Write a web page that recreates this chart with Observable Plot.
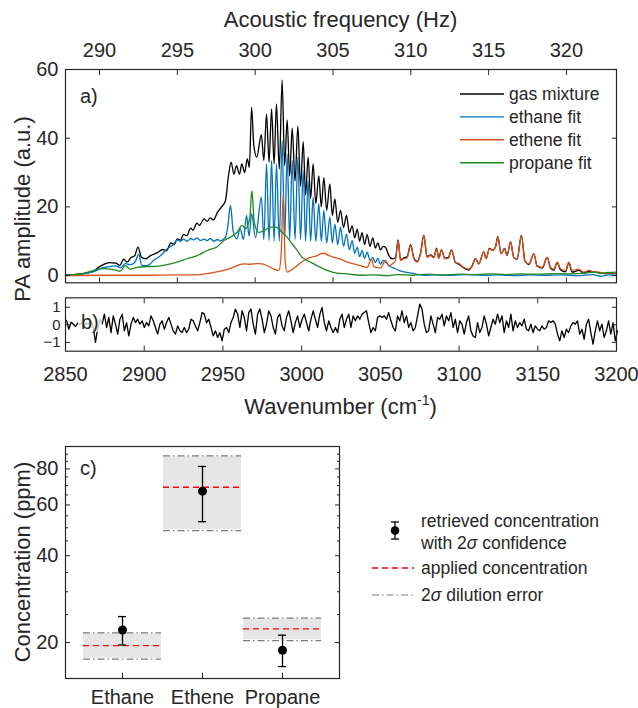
<!DOCTYPE html>
<html><head><meta charset="utf-8">
<script src="https://cdn.jsdelivr.net/npm/d3@7"></script>
<script src="https://cdn.jsdelivr.net/npm/@observablehq/plot@0.6"></script>
<style>
body{margin:0;background:#fff;}
#fig{position:relative;width:638px;height:708px;font-family:"Liberation Sans",Arial,sans-serif;color:#262626;overflow:hidden;}
#fig > *{position:absolute;}
.lab{font-size:22px;white-space:nowrap;transform:translate(-50%,-50%);}
.rot{transform:translate(-50%,-50%) rotate(-90deg);}
.pl{font-size:20px;white-space:nowrap;transform:translate(0,-50%);}
.lg{font-size:17.5px;white-space:nowrap;transform:translate(0,-50%);line-height:22px;}
</style></head><body><div id="fig"></div>
<script>
// ---------------- data: panel a (wavenumber cm-1, PA amplitude a.u.) ----------------
const gasMixture = [[2850,0.2],[2855,0.3],[2860,0.5],[2864,0.8],[2868,1.3],[2871,2.4],[2874,3.2],[2878,3.8],[2882,3.6],[2884.5,3.0],[2887,4.8],[2889,3.9],[2891.5,5.2],[2894,5.8],[2896,8.3],[2898.3,5.3],[2901,4.9],[2904,5.8],[2908,6.6],[2912,7.6],[2914,7.2],[2917,9.5],[2919,9.0],[2921,10.7],[2923,10.3],[2925,12.0],[2927,11.6],[2929.5,13.8],[2931,13.2],[2933.5,15.3],[2935,14.6],[2938,16.5],[2940,15.8],[2942,16.8],[2944,16.2],[2946.5,18.4],[2949.5,20.2],[2951.6,21.8],[2953.5,29.0],[2955.2,33.0],[2957,29.5],[2958.6,32.0],[2960.5,29.5],[2962,32.5],[2963.8,30.0],[2965.5,34.0],[2966.8,31.5],[2968.2,49.0],[2969.6,38.0],[2971.5,34.5],[2974.4,41.0],[2976,33.5],[2977.7,47.0],[2979.3,33.0],[2980.9,48.5],[2982.5,32.5],[2984.0,50.0],[2985.8,31.0],[2987.6,57.0],[2989.2,32.0],[2990.8,45.3],[2992.4,29.0],[2994.0,43.0],[2995.8,27.5],[2997.6,43.5],[2999.3,26.0],[3001,39.0],[3002.5,23.5],[3004.1,34.5],[3005.7,22.5],[3007.3,32.5],[3009,21.0],[3010.9,29.0],[3012.5,20.0],[3014.1,28.5],[3015.9,19.0],[3017.9,26.7],[3019.5,17.5],[3021.1,22.3],[3022.9,15.5],[3024.7,19.0],[3026.6,14.0],[3028.5,17.5],[3030.3,12.5],[3032.1,14.5],[3033.7,11.0],[3035.3,13.5],[3036.8,10.0],[3038.4,12.5],[3040,9.0],[3041.6,12.0],[3043.4,8.5],[3045.2,11.0],[3046.8,8.0],[3048.4,9.5],[3050,7.5],[3051.8,8.5],[3053.3,8.2],[3055.4,5.8],[3057.5,4.9],[3059.6,5.2],[3061.3,10.4],[3062.8,4.6],[3064.9,5.2],[3067,5.5],[3069.2,9.0],[3071.3,5.1],[3073.4,4.1],[3075.5,6.5],[3077.6,11.8],[3079.7,5.5],[3081.9,6.0],[3084,5.4],[3085.7,8.0],[3087.1,5.1],[3088.8,7.5],[3091,5.1],[3093.1,5.2],[3095.2,7.5],[3097.7,3.8],[3100.3,3.2],[3103,2.2],[3106.2,1.6],[3108.3,2.8],[3110.4,4.9],[3112.5,3.4],[3115.7,6.9],[3117.2,5.0],[3119.3,7.9],[3121.4,7.4],[3123.1,8.3],[3124.6,11.3],[3126.7,6.4],[3128.9,7.9],[3130.5,5.9],[3132.7,9.8],[3134.8,5.2],[3136.9,4.8],[3139.6,11.8],[3141.8,4.3],[3144.3,3.2],[3147.5,6.3],[3149.6,2.7],[3152.8,2.2],[3156,5.3],[3158.1,2.2],[3160.2,1.6],[3162.3,3.8],[3164.4,1.7],[3167.6,1.1],[3169.7,3.7],[3171.8,1.0],[3176.1,1.5],[3179.2,0.7],[3182.4,1.2],[3185.6,1.1],[3188.8,0.8],[3193,0.6],[3197.2,0.7],[3200,0.5]];
const ethaneFit = [[2850,0.2],[2856,0.3],[2860,0.4],[2866,0.9],[2870,1.5],[2874,2.3],[2878,2.6],[2882,2.8],[2885,2.3],[2888,3.5],[2891,3.2],[2894,3.8],[2896.5,6.2],[2898.5,3.0],[2901.9,2.9],[2906,4.4],[2910.3,5.8],[2914.6,7.8],[2918.8,9.2],[2921,10.4],[2923,10.0],[2925,10.6],[2927.3,10.0],[2929.5,10.8],[2931.5,10.4],[2933.5,11.0],[2935.7,10.2],[2938,10.6],[2940,10.2],[2942,10.8],[2944.2,10.0],[2946.5,10.5],[2948.4,10.1],[2950.6,10.7],[2951.6,11.2],[2953,14.0],[2954.8,20.4],[2956.5,13.0],[2958.8,10.7],[2961,13.6],[2963,10.5],[2965,17.5],[2966.6,11.5],[2968.2,18.0],[2970.7,11.0],[2974.4,22.8],[2976,10.5],[2977.7,32.5],[2979.3,10.2],[2980.9,33.5],[2982.5,10.0],[2984.0,32.5],[2985.8,10.0],[2987.6,39.3],[2989.2,10.5],[2990.8,35.4],[2992.4,10.5],[2994.0,33.5],[2995.8,10.5],[2997.6,34.5],[2999.3,10.5],[3001,30.6],[3002.5,10.0],[3004.1,27.7],[3005.7,10.0],[3007.3,22.8],[3009,10.0],[3010.9,20.9],[3012.5,10.0],[3014.1,18.9],[3015.9,9.5],[3017.9,17.0],[3019.5,9.5],[3021.1,15.0],[3022.9,9.0],[3024.7,14.1],[3026.6,8.5],[3028.5,12.1],[3030.3,7.5],[3032.1,10.2],[3033.7,6.5],[3035.3,8.3],[3036.8,5.5],[3038.4,7.3],[3040,5.0],[3041.6,6.8],[3043.4,4.5],[3045.2,5.3],[3046.8,3.8],[3048.4,5.0],[3050,3.3],[3051.8,4.4],[3053.3,3.9],[3055.4,2.9],[3057.5,2.4],[3059.6,2.0],[3061.7,1.5],[3066,1.0],[3070,0.7],[3074.5,0.3],[3078,0.1],[3085,0.2],[3095,0.1],[3105,0.3],[3115,0.1],[3125,0.2],[3135,0.0],[3145,0.2],[3155,0.1],[3165,0.2],[3175,0.0],[3185,0.3],[3190,-0.2],[3195,0.2],[3200,0.1]];
const etheneFit = [[2850,0.0],[2870,0.1],[2900,0.1],[2920,0.2],[2931.5,0.2],[2935.7,0.3],[2942,0.7],[2948.4,1.3],[2954.8,2.1],[2959,2.9],[2963.3,3.4],[2967.5,3.3],[2971.7,3.5],[2975,3.4],[2978.1,2.9],[2982.3,1.9],[2985.5,1.5],[2987,6.3],[2988.3,23.8],[2989.5,4.4],[2990.8,1.0],[2992.9,1.5],[2997.2,2.9],[3001.4,4.4],[3005.6,5.3],[3009.9,5.8],[3012,6.3],[3014.1,6.5],[3017.3,5.8],[3020.4,5.3],[3024.7,4.8],[3028.9,3.9],[3033.1,3.4],[3037.4,2.9],[3041.6,2.4],[3044.4,4.8],[3045.8,2.6],[3050.1,2.2],[3053.3,4.4],[3055.4,2.9],[3057.5,3.4],[3059.6,4.4],[3061.3,10.2],[3062.8,4.4],[3064.9,4.9],[3067,5.2],[3069.2,8.7],[3071.3,4.9],[3073.4,3.9],[3075.5,6.3],[3077.6,11.6],[3079.7,5.3],[3081.9,5.8],[3084,5.2],[3085.7,7.8],[3087.1,4.9],[3088.8,7.3],[3091,4.9],[3093.1,5.0],[3095.2,7.3],[3097.7,3.9],[3100.3,3.4],[3103,2.4],[3106.2,1.9],[3108.3,2.9],[3110.4,4.9],[3112.5,3.4],[3115.7,6.8],[3117.2,4.9],[3119.3,7.8],[3121.4,7.3],[3123.1,8.2],[3124.6,11.2],[3126.7,6.3],[3128.9,7.8],[3130.5,5.8],[3132.7,9.7],[3134.8,5.3],[3136.9,4.9],[3139.6,11.7],[3141.8,4.4],[3144.3,3.4],[3147.5,6.3],[3149.6,2.9],[3152.8,2.4],[3156,5.3],[3158.1,2.4],[3160.2,1.9],[3162.3,3.9],[3164.4,2.0],[3167.6,1.5],[3169.7,3.9],[3171.8,1.5],[3176.1,1.9],[3179.2,1.0],[3182.4,1.5],[3185.6,1.1],[3188.8,1.0],[3193,0.7],[3197.2,0.8],[3200,0.6]];
const propaneFit = [[2850,0.1],[2856,0.3],[2860,0.5],[2866,1.2],[2870,1.8],[2874,2.0],[2878,1.9],[2882,1.6],[2884.5,1.2],[2888,2.9],[2891,1.9],[2895.5,2.4],[2902,2.6],[2908.2,2.7],[2914.6,3.2],[2920.9,3.9],[2927.3,4.9],[2933.6,5.8],[2940,7.3],[2946.3,8.4],[2950.6,10.2],[2954.8,11.2],[2959,12.6],[2962.2,14.6],[2964.3,13.6],[2967.1,17.0],[2968.4,24.7],[2969.8,16.0],[2970.7,14.1],[2972.5,12.6],[2976,13.1],[2980.2,14.1],[2983.4,14.1],[2985.5,13.6],[2987.6,12.6],[2990.8,11.2],[2994,9.2],[2997.2,7.3],[3000.3,5.3],[3003.5,4.4],[3007.7,3.4],[3012,2.4],[3016.2,1.5],[3022.6,0.7],[3028.9,0.5],[3037.4,0.1],[3045.8,0.2],[3054.3,0.0],[3060,0.3],[3070,0.1],[3080,0.4],[3090,0.2],[3100,0.4],[3110,0.3],[3120,0.5],[3130,0.3],[3140,0.5],[3150,0.4],[3160,0.6],[3170,0.5],[3180,0.7],[3186,1.0],[3190,0.7],[3195,0.9],[3200,1.0]];
const seriesNames = ["gas mixture","ethane fit","ethene fit","propane fit"];
const seriesColors = ["#000000","#0072BD","#D95319","#1F8A1F"];

// ---------------- data: panel b residual (regular sampling) ----------------
const residStart = 2850.7, residStep = 1.411;
const residual = [0.25,-0.25,0.15,0.05,-0.1,0.1,0.0,0.15,-0.05,0.1,0.05,0.2,-0.1,-1.0,-0.2,0.3,
0.04,0.61,-0.15,0.42,-0.44,0.51,0.04,-0.53,0.32,0.61,-0.34,0.13,-0.63,0.04,0.42,0.13,0.32,0.04,0.23,-0.15,
0.13,-0.06,0.51,0.23,-0.15,-0.53,0.04,0.23,-0.25,0.13,0.42,0.04,-0.34,-0.53,-0.06,-0.34,-0.44,-0.15,-0.44,-0.25,
0.32,0.23,-0.06,-0.34,0.13,0.70,0.61,0.13,0.32,-0.15,-0.63,-0.34,-0.72,-0.44,-0.91,-0.25,-0.15,-0.44,0.13,0.42,
0.90,0.61,-0.15,0.80,0.42,-0.34,0.70,0.90,0.04,-0.53,0.61,0.90,0.32,-0.44,0.04,0.80,0.51,-0.15,-0.53,0.42,
0.61,-0.06,-0.34,0.42,0.80,0.23,-0.44,0.13,0.51,-0.15,0.32,0.61,0.13,-0.34,0.32,0.80,0.32,-0.15,0.61,0.99,
0.13,-0.34,0.23,-0.15,-0.44,
-0.15,-0.44,0.32,0.61,-0.15,0.32,0.61,-0.15,0.51,0.23,0.51,0.32,0.61,0.70,0.80,0.13,-0.44,-0.15,-0.34,0.42,
0.51,0.42,0.51,0.32,0.70,0.23,-0.15,-0.34,0.51,0.23,0.80,0.13,0.51,-0.15,0.13,-0.34,-0.15,0.51,1.18,0.90,
0.04,-0.44,-0.34,0.51,0.04,-0.44,0.42,0.32,0.61,-0.06,0.51,0.23,0.70,-0.15,0.32,-0.44,0.23,0.04,-0.53,0.13,
0.51,-0.34,-0.63,-0.72,0.13,-0.44,-0.15,0.51,0.04,-0.63,-0.15,0.32,0.04,0.61,0.13,0.51,-0.44,0.23,-0.15,0.61,
-0.34,0.23,-0.15,0.13,-0.06,0.32,-0.25,-0.34,0.04,-0.44,-0.06,-0.25,-0.34,-0.06,-0.25,-0.15,0.23,0.13,0.23,0.04,
-0.53,-0.91,-0.34,-0.72,-0.25,-0.44,-0.06,0.13,0.04,0.23,-0.53,-0.25,-0.82,0.04,0.32,-0.44,-1.10,-0.34,0.23,-0.34,
0.04,-0.72,-0.34,0.23,-0.53,0.13,-0.91,-0.34];

// ---------------- data: panel c (ppm) ----------------
const species = ["Ethane","Ethene","Propane"];
const applied = [19.5, 69.1, 22.3];
const dilutionLow = [17.5, 48.9, 20.3];
const dilutionHigh = [21.6, 88.8, 24.3];
const retrieved = [22.1, 67.0, 18.8];
const retrievedLow = [19.6, 52.5, 16.5];
const retrievedHigh = [24.6, 81.6, 21.2];

// ---------------- ticks ----------------
const freqTicks = [290,295,300,305,310,315,320];
const wnTicks = [2850,2900,2950,3000,3050,3100,3150,3200];
const ampTicks = [0,20,40,60];
const residTicks = [-1,0,1];
const concTicks = [20,40,60,80];
const concMinorTicks = [25,30,35,45,50,55,65,70,75,85,90];
const wnAt290 = 2871.6, wnPerHz = 296.6 / 30;
const toWn = f => wnAt290 + (f - 290) * wnPerHz;
const toFreq = w => 290 + (w - wnAt290) / wnPerHz;

const FONT = "Liberation Sans, Arial, sans-serif";
const INK = "#262626";
const fig = document.getElementById("fig");
function place(el, left, top) { el.style.left = left + "px"; el.style.top = top + "px"; fig.appendChild(el); }
function html(cls, text, left, top) { const d = document.createElement("div"); d.className = cls; d.innerHTML = text; place(d, left, top); return d; }

// ---------------- panel a ----------------
const specRows = [gasMixture, ethaneFit, etheneFit, propaneFit]
  .flatMap((s, i) => s.map(([wn, amp]) => ({name: seriesNames[i], wn, amp})));
const plotA = Plot.plot({
  width: 638, height: 290,
  marginLeft: 65, marginRight: 22, marginTop: 69, marginBottom: 7.7,
  style: {fontFamily: FONT, fontSize: "20px", color: INK, background: "transparent", overflow: "visible"},
  x: {domain: [2850, 3200]},
  y: {domain: [-2.1, 60]},
  color: {domain: seriesNames, range: seriesColors},
  marks: [
    Plot.line(specRows, {x: "wn", y: "amp", z: "name", stroke: "name", strokeWidth: 1.3, curve: "monotone-x"}),
    Plot.axisY(ampTicks, {anchor: "left", tickSize: -5, tickPadding: 12, label: null}),
    Plot.axisY(ampTicks, {anchor: "right", tickSize: -5, tickFormat: () => "", label: null}),
    Plot.axisX(freqTicks.map(toWn), {anchor: "top", tickSize: -5, tickPadding: 18, tickFormat: d => String(Math.round(toFreq(d))), label: null}),
    Plot.axisX(freqTicks.map(toWn), {anchor: "bottom", tickSize: -5, tickFormat: () => "", label: null}),
    Plot.frame({stroke: INK, strokeWidth: 1.2})
  ]
});
place(plotA, 0, 0);

// ---------------- panel b ----------------
const residRows = residual.map((v, i) => ({wn: residStart + i * residStep, v}));
const plotB = Plot.plot({
  width: 638, height: 100,
  marginLeft: 65, marginRight: 22, marginTop: 7.3, marginBottom: 39.3,
  style: {fontFamily: FONT, fontSize: "20px", color: INK, background: "transparent", overflow: "visible"},
  x: {domain: [2850, 3200]},
  y: {domain: [-1.5, 1.54]},
  marks: [
    Plot.line(residRows, {x: "wn", y: "v", stroke: "#000", strokeWidth: 1.3}),
    Plot.axisY(residTicks, {anchor: "left", tickSize: -5, tickPadding: 10, fontSize: 15, label: null}),
    Plot.axisY(residTicks, {anchor: "right", tickSize: -5, tickFormat: () => "", label: null}),
    Plot.axisX(wnTicks, {anchor: "bottom", tickSize: -5, tickPadding: 21, tickFormat: d => String(d), label: null}),
    Plot.axisX(wnTicks, {anchor: "top", tickSize: -5, tickFormat: () => "", label: null}),
    Plot.frame({stroke: INK, strokeWidth: 1.2})
  ]
});
place(plotB, 0, 290);

// ---------------- panel c ----------------
const concRows = species.map((name, i) => ({
  name, applied: applied[i], lo: dilutionLow[i], hi: dilutionHigh[i],
  ret: retrieved[i], retLo: retrievedLow[i], retHi: retrievedHigh[i]
}));
const plotC = Plot.plot({
  width: 350, height: 268,
  marginLeft: 65, marginRight: 11, marginTop: 6, marginBottom: 30,
  style: {fontFamily: FONT, fontSize: "20px", color: INK, background: "transparent", overflow: "visible"},
  x: {domain: species, type: "band", paddingInner: 0, paddingOuter: 0.2},
  y: {type: "log", domain: [15, 95.7]},
  marks: [
    Plot.barY(concRows, {x: "name", y1: "lo", y2: "hi", fill: "#e6e6e6", inset: 1}),
    Plot.tickY(concRows, {x: "name", y: "lo", stroke: "#7a7a7a", strokeWidth: 1.2, strokeDasharray: "7,3,1.5,3", inset: 1}),
    Plot.tickY(concRows, {x: "name", y: "hi", stroke: "#7a7a7a", strokeWidth: 1.2, strokeDasharray: "7,3,1.5,3", inset: 1}),
    Plot.tickY(concRows, {x: "name", y: "applied", stroke: "#ff0000", strokeWidth: 1.3, strokeDasharray: "6,4", inset: 1}),
    Plot.ruleX(concRows, {x: "name", y1: "retLo", y2: "retHi", stroke: "#000", strokeWidth: 1.3}),
    Plot.tickY(concRows, {x: "name", y: "retLo", stroke: "#000", strokeWidth: 1.3, inset: 36}),
    Plot.tickY(concRows, {x: "name", y: "retHi", stroke: "#000", strokeWidth: 1.3, inset: 36}),
    Plot.dot(concRows, {x: "name", y: "ret", r: 4.5, fill: "#000", stroke: "none"}),
    Plot.axisY(concTicks, {anchor: "left", tickSize: -5, tickPadding: 12, tickFormat: d => String(d), label: null}),
    Plot.axisY(concMinorTicks, {anchor: "left", tickSize: -3, tickFormat: () => "", label: null}),
    Plot.axisY(concTicks, {anchor: "right", tickSize: -5, tickFormat: () => "", label: null}),
    Plot.axisY(concMinorTicks, {anchor: "right", tickSize: -3, tickFormat: () => "", label: null}),
    Plot.axisX({anchor: "bottom", tickSize: -5, tickPadding: 16, label: null}),
    Plot.frame({stroke: INK, strokeWidth: 1.2})
  ]
});
place(plotC, 0, 440);

// ---------------- titles & labels ----------------
html("lab", "Acoustic frequency (Hz)", 340.5, 20);
html("lab rot", "PA amplitude (a.u.)", 23, 209);
html("lab", "Wavenumber (cm<sup style='font-size:14px;vertical-align:9px;line-height:0'>-1</sup>)", 340.5, 407);
html("lab rot", "Concentration (ppm)", 23, 562);
html("pl", "a)", 80, 96);
const bl = html("pl", "b)", 78, 322);
bl.style.background = "rgba(255,255,255,0.75)"; bl.style.padding = "0 3px"; bl.style.lineHeight = "20px";
html("pl", "c)", 80, 468);

// ---------------- legend a ----------------
const legA = document.createElementNS("http://www.w3.org/2000/svg", "svg");
legA.setAttribute("width", 50); legA.setAttribute("height", 90);
seriesColors.forEach((c, i) => {
  const l = document.createElementNS("http://www.w3.org/2000/svg", "line");
  l.setAttribute("x1", 2); l.setAttribute("x2", 46);
  l.setAttribute("y1", 5 + i * 22.9); l.setAttribute("y2", 5 + i * 22.9);
  l.setAttribute("stroke", c); l.setAttribute("stroke-width", 1.4);
  legA.appendChild(l);
});
place(legA, 458, 89);
seriesNames.forEach((n, i) => html("lg", n, 509, 94 + i * 22.9));

// ---------------- legend c ----------------
const legC = document.createElementNS("http://www.w3.org/2000/svg", "svg");
legC.setAttribute("width", 60); legC.setAttribute("height", 100);
legC.innerHTML = `
  <line x1="24" x2="24" y1="2" y2="19" stroke="#000" stroke-width="1.3"/>
  <line x1="20" x2="28" y1="2" y2="2" stroke="#000" stroke-width="1.3"/>
  <line x1="20" x2="28" y1="19" y2="19" stroke="#000" stroke-width="1.3"/>
  <circle cx="24" cy="10.5" r="4.3" fill="#000"/>
  <line x1="1" x2="43" y1="48" y2="48" stroke="#ff0000" stroke-width="1.3" stroke-dasharray="6,4"/>
  <line x1="1" x2="43" y1="75" y2="75" stroke="#7a7a7a" stroke-width="1.2" stroke-dasharray="7,3,1.5,3"/>`;
place(legC, 371, 520);
html("lg", "retrieved concentration", 421, 521);
html("lg", "with 2<i>σ</i> confidence", 421, 543);
html("lg", "applied concentration", 421, 568);
html("lg", "2<i>σ</i> dilution error", 421, 595);
</script></body></html>
